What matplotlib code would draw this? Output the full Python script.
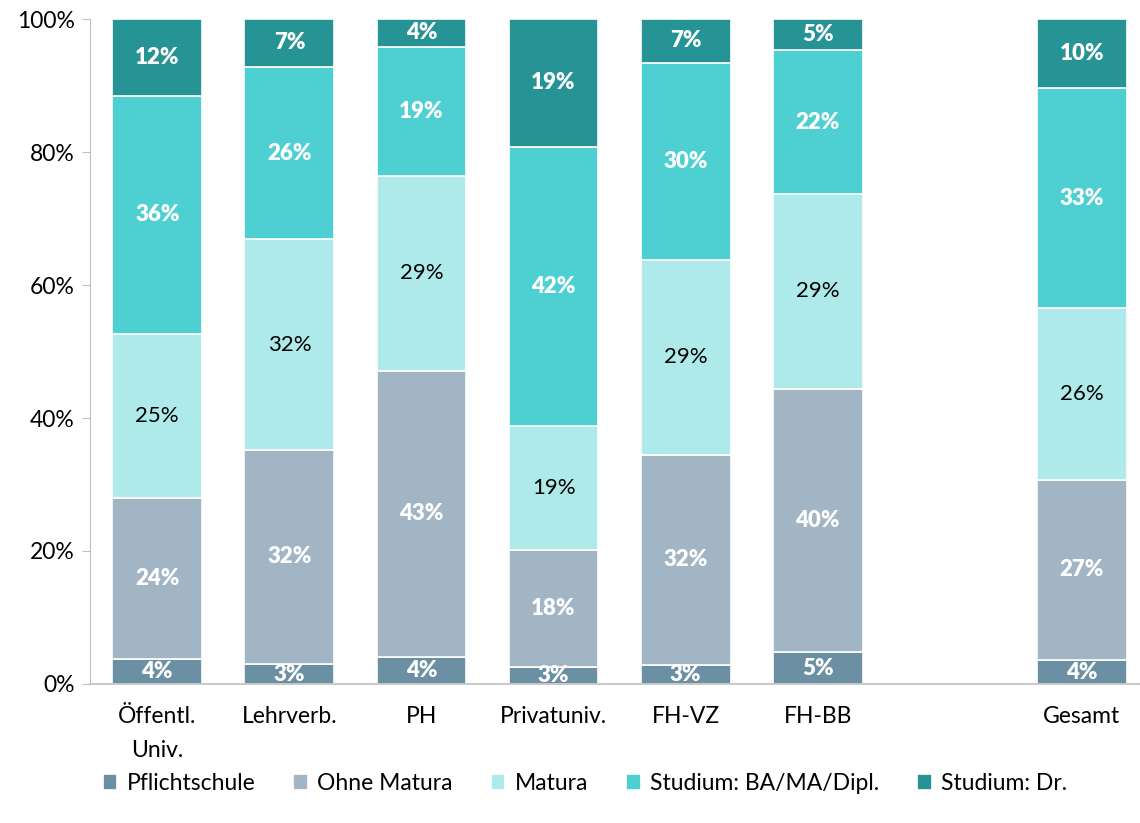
import matplotlib
matplotlib.use("Agg")
import matplotlib.pyplot as plt
from matplotlib.ticker import PercentFormatter

plt.rcParams['font.family'] = ['Lato', 'DejaVu Sans']

# Daten (Anteile in %)
kategorien = ['Öffentl.\nUniv.', 'Lehrverb.', 'PH', 'Privatuniv.', 'FH-VZ', 'FH-BB', 'Gesamt']
pflichtschule = [3.8, 3.0, 4.1, 2.6, 2.8, 4.8, 3.6]
ohne_matura = [24.2, 32.2, 43.0, 17.6, 31.7, 39.6, 27.1]
matura = [24.7, 31.7, 29.3, 18.6, 29.3, 29.3, 25.8]
studium_ba = [35.7, 25.9, 19.4, 42.0, 29.6, 21.6, 33.1]
studium_dr = [11.6, 7.2, 4.2, 19.2, 6.6, 4.7, 10.4]

serien = [
    ('Pflichtschule', pflichtschule, '#6B8FA3', 'white', 'heavy'),
    ('Ohne Matura', ohne_matura, '#A1B5C4', 'white', 'heavy'),
    ('Matura', matura, '#AFEAEB', 'black', 'normal'),
    ('Studium: BA/MA/Dipl.', studium_ba, '#4ED0D2', 'white', 'heavy'),
    ('Studium: Dr.', studium_dr, '#269494', 'white', 'heavy'),
]

# Lücke vor "Gesamt"
xpos = [0, 1, 2, 3, 4, 5, 7]

fig = plt.figure(figsize=(11.4, 8.23), dpi=100)
ax = fig.add_axes([0.0789, 0.1689, 0.9211, 0.808])

bottom = [0.0] * len(kategorien)
for name, werte, farbe, tfarbe, tgewicht in serien:
    ax.bar(xpos, werte, bottom=bottom, width=0.68, color=farbe,
           edgecolor='white', linewidth=1.2, label=name)
    for x, b, v in zip(xpos, bottom, werte):
        ax.text(x, b + v / 2, f'{v:.0f}%', ha='center', va='center',
                color=tfarbe, fontsize=16, fontweight=tgewicht)
    bottom = [b + v for b, v in zip(bottom, werte)]

ax.set_xlim(-0.51, 7.44)
ax.set_ylim(0, 100)
ax.set_yticks([0, 20, 40, 60, 80, 100])
ax.yaxis.set_major_formatter(PercentFormatter(decimals=0))
ax.set_xticks(xpos)
ax.set_xticklabels(kategorien, linespacing=1.75)
ax.tick_params(axis='y', labelsize=16.5, length=6, color='#BFBFBF', pad=5)
ax.tick_params(axis='x', labelsize=16.5, length=0, pad=16)

for s in ['top', 'right']:
    ax.spines[s].set_visible(False)
ax.spines['left'].set_color('#BFBFBF')
ax.spines['bottom'].set_color('#BFBFBF')
ax.spines['bottom'].set_linewidth(1.2)

fig.legend(loc='lower center', bbox_to_anchor=(0.513, 0.01), ncol=5,
           frameon=False, fontsize=16.5, handlelength=0.65, handleheight=0.65,
           handletextpad=0.4, columnspacing=1.65)

fig.savefig('out.png', dpi=100)
